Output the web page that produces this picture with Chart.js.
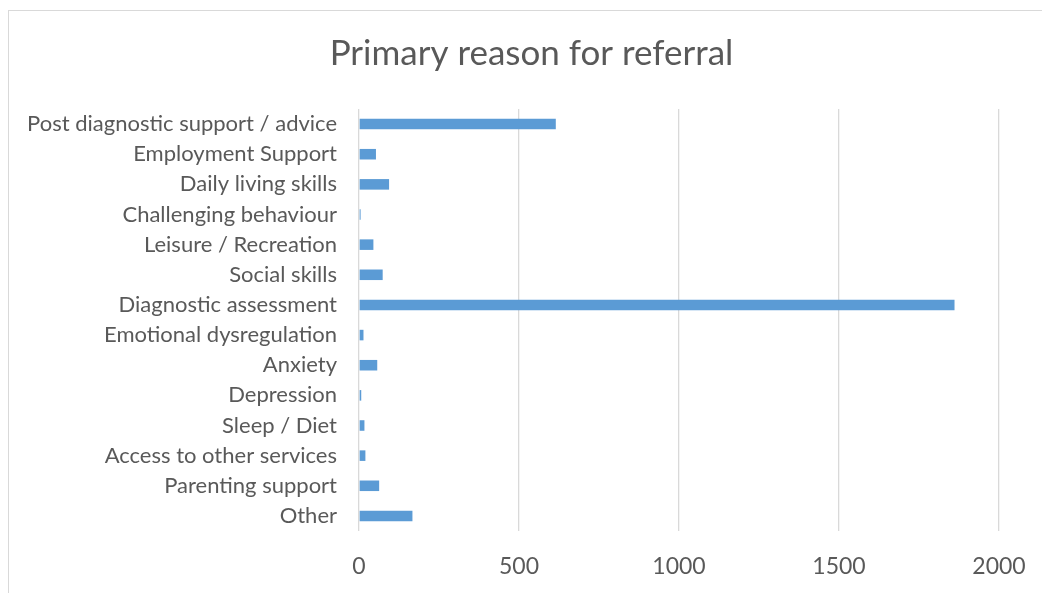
<!DOCTYPE html>
<html>
<head>
<meta charset="utf-8">
<script src="https://cdn.jsdelivr.net/npm/chart.js@4"></script>
<style>
  html, body { margin: 0; padding: 0; background: #fff; overflow: hidden; }
  #wrap { position: relative; width: 1042px; height: 593px; }
  #frame { position: absolute; left: 8px; top: 10px; width: 1100px; height: 700px; border: 1px solid #d9d9d9; }
  canvas { position: absolute; left: 0; top: 0; }
</style>
</head>
<body>
<div id="wrap">
  <div id="frame"></div>
  <canvas id="chart" width="1042" height="593"></canvas>
</div>
<script>
// data
const categories = [
  'Post diagnostic support / advice',
  'Employment Support',
  'Daily living skills',
  'Challenging behaviour',
  'Leisure / Recreation',
  'Social skills',
  'Diagnostic assessment',
  'Emotional dysregulation',
  'Anxiety',
  'Depression',
  'Sleep / Diet',
  'Access to other services',
  'Parenting support',
  'Other'
];
const referrals = [615, 53, 94, 5, 45, 74, 1861, 14, 57, 7, 17, 20, 63, 167];
const xTicks = [0, 500, 1000, 1500, 2000];

const FONT = 'Lato, "Open Sans", sans-serif';
const GREY = '#595959';

new Chart(document.getElementById('chart'), {
  type: 'bar',
  data: {
    labels: categories,
    datasets: [{
      data: referrals,
      backgroundColor: '#5b9bd5',
      categoryPercentage: 1,
      barPercentage: 0.35
    }]
  },
  options: {
    indexAxis: 'y',
    responsive: false,
    animation: false,
    // left padding keeps the title centred like the original frame
    layout: { padding: { left: 21, right: 0, top: 0, bottom: 0 } },
    plugins: {
      legend: { display: false },
      tooltip: { enabled: false },
      title: {
        display: true,
        text: 'Primary reason for referral',
        color: GREY,
        font: { family: FONT, size: 35, weight: 'normal' },
        padding: { top: 33, bottom: 34 }
      }
    },
    scales: {
      x: {
        min: 0,
        max: 2000,
        afterBuildTicks: s => { s.ticks = xTicks.map(v => ({ value: v })); },
        grid: { color: '#d9d9d9', lineWidth: 1.3, drawTicks: false },
        border: { display: false },
        ticks: { color: GREY, font: { family: FONT, size: 23 }, padding: 22, callback: v => String(v) },
        afterFit: s => { s.height = 62; s.paddingLeft = 0; s.paddingRight = 43; }
      },
      y: {
        grid: { display: false },
        border: { display: false },
        ticks: { color: GREY, font: { family: FONT, size: 22 }, padding: 14, autoSkip: false },
        afterFit: s => { s.width = 338; }
      }
    }
  }
});
</script>
</body>
</html>
